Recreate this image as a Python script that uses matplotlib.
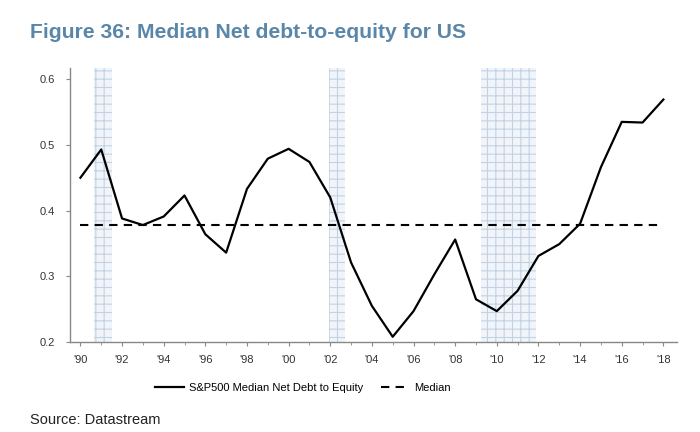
import matplotlib
matplotlib.use("Agg")
import matplotlib.pyplot as plt
from matplotlib.ticker import MultipleLocator

plt.rcParams['font.family'] = ['Liberation Sans', 'DejaVu Sans']
plt.rcParams['hatch.linewidth'] = 0.8

years = list(range(1990, 2019))
debt_to_equity = [0.450, 0.493, 0.388, 0.378, 0.391, 0.423, 0.364, 0.336, 0.433, 0.479,
                  0.494, 0.474, 0.420, 0.321, 0.255, 0.208, 0.247, 0.303, 0.356, 0.265,
                  0.247, 0.278, 0.331, 0.349, 0.380, 0.466, 0.535, 0.534, 0.569]
median_value = 0.378
recessions = [(1990.64, 1991.52), (2001.93, 2002.70), (2009.26, 2011.89)]
xtick_years = list(range(1990, 2019, 2))
xtick_labels = ["'" + str(y)[2:] for y in xtick_years]
ytick_values = [0.2, 0.3, 0.4, 0.5, 0.6]

fig = plt.figure(figsize=(7, 4.32), dpi=100)
ax = fig.add_axes([0.1, 0.2083, 0.867, 0.6343])

for x0, x1 in recessions:
    ax.axvspan(x0, x1, facecolor='#f1f5fa', edgecolor='#c2d2e4', hatch='++', linewidth=0, zorder=1)

ax.plot(years, debt_to_equity, color='black', lw=1.6, zorder=3,
        label='S&P500 Median Net Debt to Equity')
ax.plot([years[0], years[-1]], [median_value, median_value], color='black', lw=1.5,
        ls=(0, (4, 3)), zorder=3, label='Median')

ax.set_xlim(1989.5, 2018.65)
ax.set_ylim(0.2, 0.617)
ax.set_xticks(xtick_years)
ax.set_xticklabels(xtick_labels)
ax.xaxis.set_minor_locator(MultipleLocator(1))
ax.set_yticks(ytick_values)
ax.set_yticklabels([f'{v:.1f}' for v in ytick_values])

for s in ['top', 'right']:
    ax.spines[s].set_visible(False)
for s in ['left', 'bottom']:
    ax.spines[s].set_color('#888888')
    ax.spines[s].set_linewidth(1.0)
ax.tick_params(axis='both', which='major', labelsize=8, colors='#888888', labelcolor='#333333',
               length=3, width=0.8)
ax.tick_params(axis='x', which='minor', length=2, colors='#888888')
ax.tick_params(axis='x', pad=6)
ax.tick_params(axis='y', pad=8)

leg = fig.legend(loc='center', bbox_to_anchor=(0.433, 0.102), ncol=2, frameon=False,
                 fontsize=8, handlelength=2.6, columnspacing=1.6, handletextpad=0.4)

fig.text(0.043, 0.925, 'Figure 36: Median Net debt-to-equity for US', fontsize=15.2,
         fontweight='bold', color='#5a87a9', ha='left', va='center')
fig.text(0.043, 0.028, 'Source: Datastream', fontsize=10.5, color='#222222', ha='left', va='center')

fig.savefig('out.png', dpi=100)
